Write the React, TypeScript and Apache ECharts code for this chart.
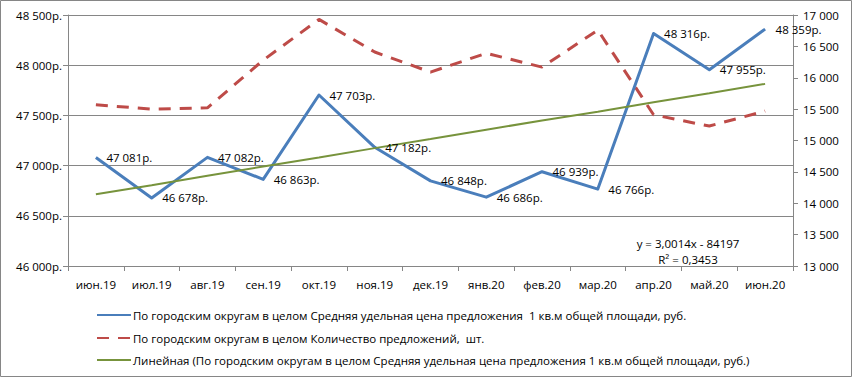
import React, { useEffect, useRef } from "react";
import * as echarts from "echarts";

const categories = ["июн.19", "июл.19", "авг.19", "сен.19", "окт.19", "ноя.19", "дек.19", "янв.20", "фев.20", "мар.20", "апр.20", "май.20", "июн.20"];
const priceValues = [47081, 46678, 47082, 46863, 47703, 47182, 46848, 46686, 46939, 46766, 48316, 47955, 48359];
const offersValues = [15570, 15500, 15520, 16280, 16930, 16410, 16090, 16390, 16170, 16760, 15410, 15230, 15470];
const trendValues = [46715, 46805, 46898, 46991, 47081, 47174, 47264, 47357, 47450, 47537, 47631, 47721, 47814];
const leftTicks = { min: 46000, max: 48500, interval: 500 };
const rightTicks = { min: 13000, max: 17000, interval: 500 };

const seriesNames = [
  "По городским округам в целом Средняя удельная цена предложения  1 кв.м общей площади, руб.",
  "По городским округам в целом Количество предложений,  шт.",
  "Линейная (По городским округам в целом Средняя удельная цена предложения 1 кв.м общей площади, руб.)",
];
const equationLines = ["y = 3,0014x - 84197", "R² = 0,3453"];

const FONT = "Open Sans";
const FS = 11.5;
const fmt = (v: number) => {
  const s = String(Math.round(v));
  return s.replace(/\B(?=(\d{3})+(?!\d))/g, " ");
};

export default function App() {
  const ref = useRef<HTMLDivElement>(null);
  useEffect(() => {
    if (!ref.current) return;
    const chart = echarts.init(ref.current, null, { renderer: "svg" });
    const gray = "#868686";
    const txt = { fontFamily: FONT, fontSize: FS, color: "#000" };
    chart.setOption({
      animation: false,
      backgroundColor: "#fff",
      textStyle: { fontFamily: FONT },
      grid: { left: 68, right: 59, top: 15, bottom: 111, containLabel: false },
      legend: seriesNames.map((n, i) => ({
        data: [n],
        orient: "horizontal",
        left: 96,
        top: [309, 332, 354][i],
        padding: 0,
        itemWidth: 34,
        itemHeight: 14,
        selectedMode: false,
        itemStyle: { opacity: 0 },
        textStyle: { ...txt, padding: [0, 0, 0, -3] },
      })),
      xAxis: {
        type: "category",
        data: categories,
        boundaryGap: true,
        axisLine: { lineStyle: { color: gray } },
        axisTick: { show: true, interval: 0, length: 5, lineStyle: { color: gray } },
        axisLabel: { ...txt, margin: 12, interval: 0 },
      },
      yAxis: [
        {
          type: "value",
          ...leftTicks,
          position: "left",
          axisLine: { show: true, lineStyle: { color: gray } },
          axisTick: { show: true, length: 5, lineStyle: { color: gray } },
          splitLine: { show: true, lineStyle: { color: gray, width: 1 } },
          axisLabel: { ...txt, margin: 6, formatter: (v: number) => fmt(v) + "р." },
        },
        {
          type: "value",
          ...rightTicks,
          position: "right",
          axisLine: { show: true, lineStyle: { color: gray } },
          axisTick: { show: true, length: 5, lineStyle: { color: gray } },
          splitLine: { show: false },
          axisLabel: { ...txt, margin: 10, formatter: (v: number) => fmt(v) },
        },
      ],
      series: [
        {
          name: seriesNames[0],
          type: "line",
          yAxisIndex: 0,
          data: priceValues,
          symbol: "none",
          lineStyle: { color: "#4A7EBB", width: 3, join: "round" },
          itemStyle: { color: "#4A7EBB" },
          z: 4,
        },
        {
          name: seriesNames[1],
          type: "line",
          yAxisIndex: 1,
          data: offersValues,
          symbol: "none",
          lineStyle: { color: "#BE4B48", width: 3, type: [12, 9], cap: "butt" },
          itemStyle: { color: "#BE4B48" },
          z: 3,
        },
        {
          name: seriesNames[2],
          type: "line",
          yAxisIndex: 0,
          data: trendValues,
          symbol: "none",
          lineStyle: { color: "#77933C", width: 2 },
          itemStyle: { color: "#77933C" },
          z: 5,
        },
        {
          name: "labels",
          type: "line",
          yAxisIndex: 0,
          data: priceValues,
          symbol: "circle",
          symbolSize: 1,
          showSymbol: true,
          lineStyle: { width: 0, opacity: 0 },
          itemStyle: { color: "rgba(0,0,0,0)" },
          label: {
            show: true,
            position: "right",
            distance: 10,
            ...txt,
            formatter: (p: any) => fmt(p.value) + "р.",
          },
          labelLayout: { hideOverlap: false },
          silent: true,
          z: 6,
        },
      ],
      graphic: [
        {
          type: "rect",
          shape: { x: 0.5, y: 0.5, width: 851, height: 376 },
          style: { fill: "none", stroke: gray, lineWidth: 1 },
          silent: true,
        },
        {
          type: "text",
          x: 688,
          y: 243,
          style: { text: equationLines[0], font: `${FS}px "${FONT}"`, fill: "#000", textAlign: "center", textVerticalAlign: "middle" },
        },
        {
          type: "text",
          x: 688,
          y: 259,
          style: { text: equationLines[1], font: `${FS}px "${FONT}"`, fill: "#000", textAlign: "center", textVerticalAlign: "middle" },
        },
      ],
    });
    return () => chart.dispose();
  }, []);
  return <div ref={ref} style={{ position: "fixed", left: 0, top: 0, width: 852, height: 377 }} />;
}
